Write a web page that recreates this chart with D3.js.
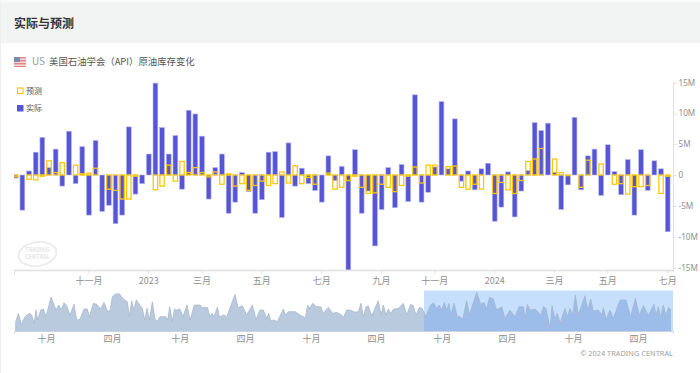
<!DOCTYPE html>
<html><head><meta charset="utf-8"><script src="https://cdn.jsdelivr.net/npm/d3@7"></script>
<style>html,body{margin:0;padding:0;background:#fff}svg{display:block}text{font-family:"Noto Sans CJK SC","Noto Sans",sans-serif}</style></head>
<body><svg id="c" width="700" height="373"></svg>
<script>
const actual=[-0.5,-5.7,0.65,3.7,6.1,1.2,4.2,-1.8,7.1,-1.4,4.6,-6.5,5.6,-5.9,-4.9,-7.9,-6.5,7.8,-3.1,-1.4,3.4,14.9,7.7,3.4,6.4,-2.3,10.5,9.9,6.3,-3.9,1.2,3.4,-6.2,-4.4,0.4,-2.7,-6.2,-4,3.7,3.8,-6.9,5.2,-1.8,1.1,-1.4,-2.5,-4.4,3.1,-0.9,1.4,-15.4,4.1,-6.2,-2.6,-11.5,-5.6,1.2,-5.3,1.7,-4.3,13,-4.4,-2.8,1.3,11.9,1,9.1,-1,0.65,-2.4,1,1.9,-7.5,-5.2,0.5,-6.8,-2.6,0.7,8.5,7.2,8.4,0.4,-5.6,-1.6,9.35,-2.4,3.1,4.2,-3.3,4.9,0.55,-3.2,2.5,-6.5,4.1,-2.5,2.3,1,-9.2];
const forecast=[-0.3,0,-0.7,-0.8,-0.2,2.3,0.4,2,0,1.6,0.2,0.3,1.1,0,-2.3,-2.5,-3.9,-3.9,-0.2,0,0,-2.4,-1.8,1.6,-1,2.2,0.4,1.2,0.4,-0.3,0.5,-1.5,0.2,-1.8,-1.4,-2.5,-1.7,-1,-1.7,-1.4,0.5,-1.3,1.5,-1.4,-0.4,-1.5,0,0.3,-2.3,-2,-0.9,-0.2,-2,-3,-2.9,-1.5,-2,-2.7,-1.7,-0.2,1.3,-1.3,1.6,1.6,0,1.35,1.45,-2,-2.3,-1.5,-2.3,0,-3,-1.2,-2.4,-3,-0.9,2.2,2.6,4.3,0,2.6,0.4,-0.1,0,-2,2.4,0,1.8,0,-1.5,-1.4,-3.1,-1.9,-1.9,-1.7,0,-3,-0.2];
const firstWeek="2022-08-17";
const weekCount=actual.length;
const tickWeeks=[11,20,28,37,46,55,63,72,81,89,98];
const tickLabels=["十一月","2023","三月","五月","七月","九月","十一月","2024","三月","五月","七月"];
const yTicks=[15,10,5,0,-5,-10,-15];
const yLabels=["15M","10M","5M","0","-5M","-10M","-15M"];
const navSample=[47,47,55,64,75,88,95,102,108,113,122,130,138,153,168,176,183,192,200,210,222,230,240,252,262,268,280,290,302,312,322,330,337,345,358,370,382,388,395,401,409,420,427,434,441,448,457,465,472,480,497,503,509,517,523,530,540,549,561,570,583,600,608,622,630,636,642,652,658,672,680,705,714,727,740,757,768,780,790,800,806,812,822,832,850,856,865,885,900,916,923,929,938,950,962,970,985,998,1010,1025,1030,1040,1050,1065,1075,1083,1090,1098,1105,1115,1135,1143,1150,1158,1165,1172,1180,1195,1210,1220,1232,1240,1248,1258,1266,1278,1290,1300,1310,1318,1325,1333,1340,1347,1353,1362,1372,1380,1388,1400,1408,1430,1442,1452,1460,1468,1480,1490,1505,1515,1530,1545,1557,1570,1576,1582,1590,1605,1623,1630,1638,1650,1656,1665,1672,1680,1695,1702,1710,1718,1726,1735,1755,1763,1772,1780,1795,1805,1810,1818,1830,1840,1860,1878,1892,1906,1918,1930,1945,1962,1968,1975,1982,1990,1998,2006,2013];
const navValue=[0,28,53,20,43,53,48,23,63,33,63,66,43,102,63,78,63,85,76,48,80,33,35,66,66,43,83,80,66,86,60,60,103,110,112,96,88,43,91,63,93,76,68,33,68,33,88,35,30,43,43,33,73,28,65,63,66,43,78,33,78,78,70,71,43,53,43,71,43,48,43,110,70,76,48,78,35,63,63,38,53,31,33,28,66,48,58,58,48,40,78,68,83,73,73,53,71,53,56,48,40,63,63,56,58,83,43,73,75,46,91,48,78,48,66,53,65,68,83,48,80,76,48,71,68,43,76,85,68,78,63,86,63,83,48,83,43,43,35,91,48,116,80,86,66,101,96,63,73,38,63,43,73,73,40,80,63,66,48,73,68,8,76,38,53,23,68,43,68,48,108,48,106,63,96,60,63,48,70,35,63,38,93,93,43,98,48,76,48,80,48,73,43,78,48,71,63,0];
const navTickSample=[138,336,539,735,933,1128,1325,1521,1719,1914];
const navTickLabels=["十月","四月","十月","四月","十月","四月","十月","四月","十月","四月"];
const titleText="实际与预测";
const seriesName="美国石油学会（API）原油库存变化";
const legendNames=["预测","实际"];

const svg=d3.select("#c");
const AXIS="#e0e0e0",LBL="#8f8f8f",BLUE="#5555d6",YEL="#fcc60f";
svg.append("rect").attr("x",0).attr("y",2).attr("width",700).attr("height",41).attr("fill","#f2f4f4");
svg.append("rect").attr("x",0).attr("y",0).attr("width",700).attr("height",2).attr("fill","#fafafa");
svg.append("rect").attr("x",0).attr("y",2).attr("width",1).attr("height",371).attr("fill","#eeeeee");
svg.append("text").attr("x",14).attr("y",28).attr("font-size",12).attr("font-weight",700).attr("fill","#333").text(titleText);
// flag
const f=svg.append("g").attr("transform","translate(14,57)").attr("opacity",0.7);
f.append("rect").attr("width",12).attr("height",10).attr("fill","#d9505a").attr("rx",1);
[1.5,4.5,7.5].forEach(v=>f.append("rect").attr("y",v).attr("width",12).attr("height",1.4).attr("fill","#f4d8da"));
f.append("rect").attr("width",6).attr("height",5).attr("fill","#4a5590");
svg.append("text").attr("x",32).attr("y",65).attr("font-size",10).attr("fill","#9a9a9a").text("US");
svg.append("text").attr("x",49).attr("y",65).attr("font-size",9.4).attr("fill","#555").text(seriesName);

// watermark
const w=svg.append("g").attr("transform","translate(37.5,254)");
w.append("ellipse").attr("rx",19).attr("ry",12).attr("transform","rotate(-8)").attr("fill","none").attr("stroke","#ececec").attr("stroke-width",2);
w.append("text").attr("text-anchor","middle").attr("y",-2).attr("font-size",5.5).attr("font-weight",700).attr("fill","#e6e6e6").text("TRADING");
w.append("text").attr("text-anchor","middle").attr("y",5).attr("font-size",5.5).attr("font-weight",700).attr("fill","#e6e6e6").text("CENTRAL");

// main scales
const start=new Date(firstWeek+"T00:00:00");
const weeks=d3.range(weekCount).map(i=>d3.timeDay.offset(start,i*7));
const x=d3.scaleBand().domain(weeks).range([12.4,671]).paddingInner(0).paddingOuter(0);
const cx=d=>x(d)+x.bandwidth()/2;
const y=d3.scaleLinear().domain([-15,15]).range([267.5,82.5]);
const barW=4.8;
svg.append("clipPath").attr("id","pc").append("rect").attr("x",14).attr("y",72).attr("width",659).attr("height",198);
const plot=svg.append("g").attr("clip-path","url(#pc)");
plot.selectAll(".a").data(actual).join("rect").attr("class","a")
 .attr("x",(d,i)=>cx(weeks[i])-barW/2).attr("width",barW)
 .attr("y",d=>y(Math.max(0,d))).attr("height",d=>Math.abs(y(d)-y(0)))
 .attr("fill",BLUE).attr("stroke","#b4b4f0").attr("stroke-width",0.6);
plot.selectAll(".f").data(forecast).join("rect").attr("class","f")
 .attr("x",(d,i)=>cx(weeks[i])-barW/2+0.2).attr("width",barW-0.4)
 .attr("y",d=>y(Math.max(0,d))).attr("height",d=>Math.abs(y(d)-y(0)))
 .attr("fill","none").attr("stroke",YEL).attr("stroke-width",1.3)
 .style("display",d=>d===0?"none":null);

// x axis
const ax=svg.append("g").attr("transform","translate(0,270.5)")
 .call(d3.axisBottom(x).tickValues(tickWeeks.map(i=>weeks[i])).tickFormat((d,i)=>tickLabels[i]).tickSize(3).tickPadding(4));
ax.select(".domain").remove();
svg.append("line").attr("x1",14).attr("x2",673).attr("y1",270.5).attr("y2",270.5).attr("stroke",AXIS).attr("stroke-width",1.5);
svg.append("line").attr("x1",14.5).attr("x2",14.5).attr("y1",270.5).attr("y2",274).attr("stroke",AXIS);
ax.selectAll(".tick line").attr("stroke",AXIS);
ax.selectAll("text").attr("fill",LBL).attr("font-size",9).style("font-family",'"Noto Sans CJK SC","Noto Sans",sans-serif');

// y axis
const ay=svg.append("g").attr("transform","translate(673.5,0)")
 .call(d3.axisRight(y).tickValues(yTicks).tickFormat((d,i)=>yLabels[i]).tickSize(3).tickPadding(2));
ay.select(".domain").remove();
svg.append("line").attr("x1",673.5).attr("x2",673.5).attr("y1",81.5).attr("y2",272).attr("stroke",AXIS);
ay.selectAll(".tick line").attr("stroke",AXIS);
ay.selectAll("text").attr("fill",LBL).attr("font-size",8.2).style("font-family",'"Noto Sans",sans-serif');

// legend
svg.append("rect").attr("x",17.5).attr("y",88).attr("width",5.5).attr("height",5.5).attr("fill","none").attr("stroke",YEL).attr("stroke-width",1.2);
svg.append("rect").attr("x",17).attr("y",105).attr("width",6.5).attr("height",6.5).attr("fill",BLUE);
svg.append("text").attr("x",26).attr("y",94).attr("font-size",8).attr("fill","#555").text(legendNames[0]);
svg.append("text").attr("x",26).attr("y",111).attr("font-size",8).attr("fill","#555").text(legendNames[1]);

// navigator
const nx=d3.scaleLinear().domain([47,2013]).range([15.7,671]);
const ny=d3.scaleLinear().domain([0,120]).range([331,291]);
const navPts=navSample.map((s,i)=>[s,navValue[i]]);
svg.append("rect").attr("x",424).attr("y",290.5).attr("width",249).attr("height",40.5).attr("fill","#c5dffd");
const area=d3.area().x(d=>nx(d[0])).y0(ny(0)).y1(d=>ny(d[1]));
const line=d3.line().x(d=>nx(d[0])).y(d=>ny(d[1]));
svg.append("clipPath").attr("id","sel").append("rect").attr("x",424).attr("y",285).attr("width",249).attr("height",50);
svg.append("clipPath").attr("id","uns").append("rect").attr("x",0).attr("y",285).attr("width",424).attr("height",50);
svg.append("path").attr("d",area(navPts)).attr("fill","#b9cade").attr("clip-path","url(#uns)");
svg.append("path").attr("d",area(navPts)).attr("fill","#9cbde9").attr("clip-path","url(#sel)");
svg.append("path").attr("d",line(navPts)).attr("fill","none").attr("stroke","#a3b3c7").attr("stroke-width",0.7);
const nax=svg.append("g").attr("transform","translate(0,331)")
 .call(d3.axisBottom(nx).tickValues(navTickSample).tickFormat((d,i)=>navTickLabels[i]).tickSize(0).tickPadding(5));
nax.select(".domain").remove();
nax.selectAll("text").attr("fill",LBL).attr("font-size",9).style("font-family",'"Noto Sans CJK SC","Noto Sans",sans-serif');
svg.append("line").attr("x1",14).attr("x2",673).attr("y1",331.5).attr("y2",331.5).attr("stroke","#c8d3df");
svg.append("line").attr("x1",14.5).attr("x2",14.5).attr("y1",331).attr("y2",334).attr("stroke",AXIS);
svg.append("line").attr("x1",673.5).attr("x2",673.5).attr("y1",331).attr("y2",334).attr("stroke",AXIS);
svg.append("text").attr("x",673).attr("y",356).attr("text-anchor","end").attr("font-size",7.4).attr("fill","#a0a0a0").style("font-family",'"Noto Sans",sans-serif').text("© 2024 TRADING CENTRAL");
</script></body></html>
